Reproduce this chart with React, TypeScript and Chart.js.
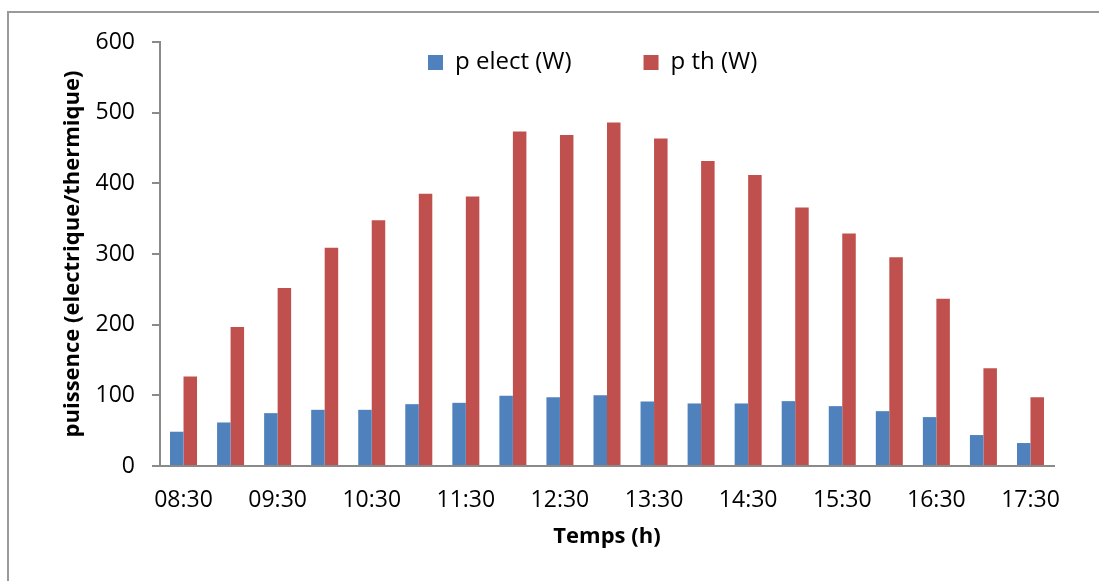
import React, { useEffect, useRef } from "react";
import { Chart, registerables } from "chart.js";

Chart.register(...registerables);

const categories = [
  "08:30", "09:00", "09:30", "10:00", "10:30", "11:00", "11:30", "12:00", "12:30", "13:00",
  "13:30", "14:00", "14:30", "15:00", "15:30", "16:00", "16:30", "17:00", "17:30",
];

const pElect = [48.5, 61.6, 74.8, 79.5, 79.5, 87.5, 89.4, 99.3, 97.4, 100.2, 91.3, 88.5, 88.5, 91.8, 84.7, 77.6, 69.2, 43.8, 32.5];
const pTh = [126.6, 196.7, 252, 308.8, 347.7, 385.4, 381.2, 473.4, 468.3, 486, 463.6, 431.5, 411.7, 365.7, 329, 295.5, 236.7, 138.4, 97.4];

const seriesNames = ["p elect (W)", "p th (W)"];
const xTitle = "Temps (h)";
const yTitle = "puissence (electrique/thermique)";

const FONT = "'Open Sans', 'DejaVu Sans', sans-serif";
const LEGEND_SIZE = 24;
const LEGEND_PAD = 72;
const TICK_SIZE = 23;

// place the legend inside the plot area, like the original
const legendShift = {
  id: "legendShift",
  afterLayout(chart: any) {
    const lg = chart.legend;
    if (!lg || !lg.lineWidths) return;
    const pad = LEGEND_PAD;
    const itemHeight = Math.max(LEGEND_SIZE, 15);
    const newTop = 62.5 - pad - itemHeight / 2;
    const dy = newTop - lg.top;
    lg.top += dy;
    lg.bottom += dy;
    const start = (lg.left + pad + lg.right - lg.lineWidths[0]) / 2;
    const dx = 428 - start;
    lg.left += dx;
    lg.right += dx;
  },
};

export default function App() {
  const ref = useRef<HTMLCanvasElement | null>(null);

  useEffect(() => {
    if (!ref.current) return;
    const chart = new Chart(ref.current, {
      type: "bar",
      data: {
        labels: categories,
        datasets: [
          {
            label: seriesNames[0],
            data: pElect,
            backgroundColor: "#4F81BD",
            borderWidth: 0,
            categoryPercentage: 0.574,
            barPercentage: 1,
          },
          {
            label: seriesNames[1],
            data: pTh,
            backgroundColor: "#C0504D",
            borderWidth: 0,
            categoryPercentage: 0.574,
            barPercentage: 1,
          },
        ],
      },
      options: {
        responsive: false,
        animation: false,
        devicePixelRatio: 1,
        layout: { padding: { left: 0, top: 42 - (LEGEND_SIZE + LEGEND_PAD + 10), right: 45, bottom: 0 } },
        plugins: {
          tooltip: { enabled: false },
          legend: {
            position: "top",
            fullSize: false,
            align: "center",
            labels: {
              boxWidth: 15,
              boxHeight: 15,
              padding: LEGEND_PAD,
              color: "#000",
              font: { family: FONT, size: LEGEND_SIZE },
            },
          },
        },
        scales: {
          x: {
            grid: { display: false, drawTicks: false },
            border: { display: true, color: "#8a8a8a", width: 2 },
            ticks: {
              autoSkip: false,
              maxRotation: 0,
              minRotation: 0,
              padding: 21,
              color: "#000",
              font: { family: FONT, size: TICK_SIZE },
              callback: (_v: any, i: number) => (i % 2 === 0 ? categories[i] : ""),
            },
            title: {
              display: true,
              text: xTitle,
              color: "#000",
              font: { family: FONT, size: 22, weight: "bold" },
              padding: { top: 0, bottom: 31 },
            },
            afterFit: (s: any) => {
              s.height = 115;
            },
          },
          y: {
            min: 0,
            max: 600,
            ticks: {
              stepSize: 100,
              padding: 17,
              color: "#000",
              font: { family: FONT, size: TICK_SIZE },
            },
            grid: {
              display: true,
              drawOnChartArea: false,
              drawTicks: true,
              tickLength: 8,
              color: "#8a8a8a",
              lineWidth: 2,
            },
            border: { display: true, color: "#8a8a8a", width: 2 },
            title: {
              display: true,
              text: yTitle,
              color: "#000",
              font: { family: FONT, size: 22, weight: "bold" },
              padding: { top: 60, bottom: 0 },
            },
            afterFit: (s: any) => {
              s.width = 160;
            },
          },
        },
      },
      plugins: [legendShift],
    } as any);
    return () => chart.destroy();
  }, []);

  return (
    <div style={{ position: "absolute", left: 0, top: 0, width: 1099, height: 581, background: "#fff", overflow: "hidden" }}>
      <div
        style={{
          position: "absolute",
          left: 7,
          top: 11,
          width: 1100,
          height: 580,
          borderLeft: "2px solid #9a9a9a",
          borderTop: "2px solid #9a9a9a",
        }}
      />
      <canvas ref={ref} width={1099} height={581} style={{ position: "absolute", left: 0, top: 0 }} />
    </div>
  );
}
